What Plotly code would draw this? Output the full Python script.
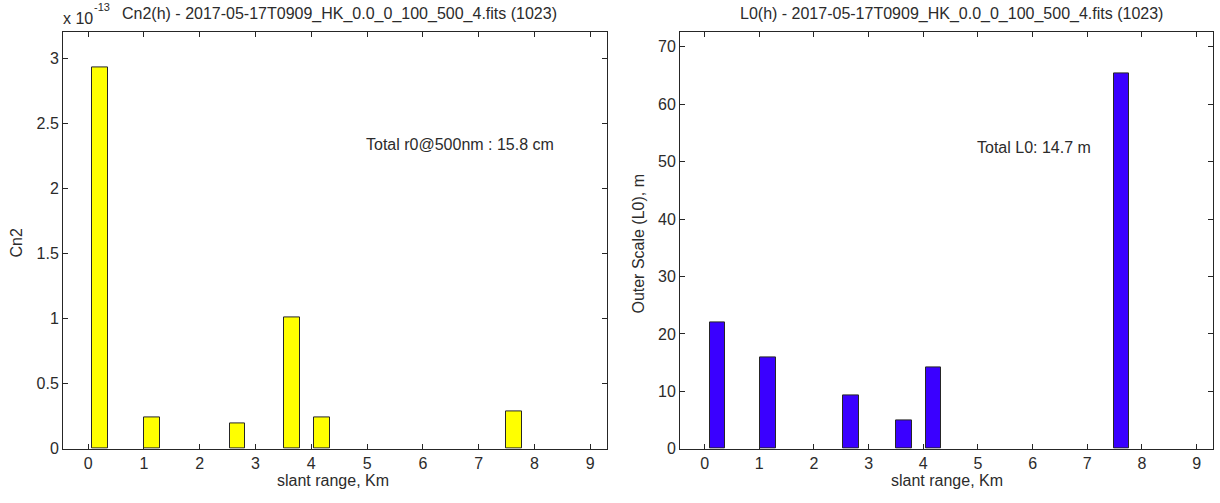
import plotly.graph_objects as go

# ---- data ----
slant_range_km = [0.21, 1.15, 2.68, 3.65, 4.19, 7.63]
cn2_e13 = [2.93, 0.245, 0.195, 1.01, 0.245, 0.29]          # Cn2 in units of 1e-13
l0_range_km = [0.23, 1.16, 2.68, 3.65, 4.19, 7.62]
l0_m = [22.0, 16.0, 9.25, 5.0, 14.2, 65.4]

x_ticks = list(range(0, 10))
cn2_ticks = [0, 0.5, 1, 1.5, 2, 2.5, 3]
l0_ticks = [0, 10, 20, 30, 40, 50, 60, 70]

title_left = "Cn2(h) - 2017-05-17T0909_HK_0.0_0_100_500_4.fits (1023)"
title_right = "L0(h) - 2017-05-17T0909_HK_0.0_0_100_500_4.fits (1023)"
note_left = "Total r0@500nm : 15.8 cm"
note_right = "Total L0: 14.7 m"

# ---- layout helpers ----
W, H = 1220, 503
FONT = "Liberation Sans, Arial, Helvetica, sans-serif"
TXT = "#2b2b2b"
LINE = "#262626"
FS = 16

def px(x):
    return x / W

def py(y):
    return 1 - y / H

fig = go.Figure()
fig.add_trace(go.Bar(x=slant_range_km, y=cn2_e13, width=0.28,
                     marker=dict(color="#ffff00", line=dict(color=LINE, width=1)),
                     xaxis="x", yaxis="y", showlegend=False))
fig.add_trace(go.Bar(x=l0_range_km, y=l0_m, width=0.28,
                     marker=dict(color="#3a00ff", line=dict(color=LINE, width=1)),
                     xaxis="x2", yaxis="y2", showlegend=False))

axis_common = dict(showline=True, linecolor=LINE, linewidth=1, mirror="ticks",
                   ticks="inside", ticklen=5, tickcolor=LINE, showgrid=False,
                   zeroline=False, tickfont=dict(family=FONT, size=FS, color=TXT))

fig.update_layout(
    width=W, height=H, autosize=False,
    margin=dict(l=0, r=0, t=0, b=0),
    paper_bgcolor="white", plot_bgcolor="white",
    font=dict(family=FONT, size=FS, color=TXT),
    bargap=0,
    xaxis=dict(domain=[px(63), px(607)], range=[-0.45, 9.3], tickvals=x_ticks,
               anchor="y", **axis_common),
    yaxis=dict(domain=[py(457), py(33)], range=[0, 3.2], tickvals=cn2_ticks,
               ticktext=[f"{v:g}" for v in cn2_ticks], anchor="x", **axis_common),
    xaxis2=dict(domain=[px(680), px(1213)], range=[-0.45, 9.3], tickvals=x_ticks,
                anchor="y2", **axis_common),
    yaxis2=dict(domain=[py(457), py(33)], range=[0, 72.5], tickvals=l0_ticks,
                anchor="x2", **axis_common),
)

ann = []
ann.append(dict(text=title_left, x=px(339), y=py(14), xref="paper", yref="paper",
                xanchor="center", yanchor="middle", showarrow=False))
ann.append(dict(text=title_right, x=px(951), y=py(14), xref="paper", yref="paper",
                xanchor="center", yanchor="middle", showarrow=False))
ann.append(dict(text="x 10", x=px(61), y=py(19), xref="paper", yref="paper",
                xanchor="left", yanchor="middle", showarrow=False))
ann.append(dict(text="-13", x=px(92), y=py(7), xref="paper", yref="paper",
                xanchor="left", yanchor="middle", showarrow=False,
                font=dict(size=11)))
ann.append(dict(text="slant range, Km", x=px(333), y=py(489), xref="paper", yref="paper",
                xanchor="center", yanchor="middle", showarrow=False))
ann.append(dict(text="slant range, Km", x=px(947), y=py(489), xref="paper", yref="paper",
                xanchor="center", yanchor="middle", showarrow=False))
ann.append(dict(text="Cn2", x=px(17), y=py(248), xref="paper", yref="paper",
                xanchor="center", yanchor="middle", showarrow=False, textangle=-90))
ann.append(dict(text="Outer Scale (L0), m", x=px(639), y=py(248), xref="paper", yref="paper",
                xanchor="center", yanchor="middle", showarrow=False, textangle=-90))
ann.append(dict(text=note_left, x=4.95, y=2.34, xref="x", yref="y",
                xanchor="left", yanchor="middle", showarrow=False))
ann.append(dict(text=note_right, x=4.95, y=52.4, xref="x2", yref="y2",
                xanchor="left", yanchor="middle", showarrow=False))
fig.update_layout(annotations=ann)

page_fix = """
document.documentElement.style.margin='0';
document.documentElement.style.padding='0';
document.documentElement.style.overflow='hidden';
document.body.style.margin='0';
document.body.style.padding='0';
document.body.style.overflow='hidden';
"""
fig.write_html("out.html", post_script=page_fix)
